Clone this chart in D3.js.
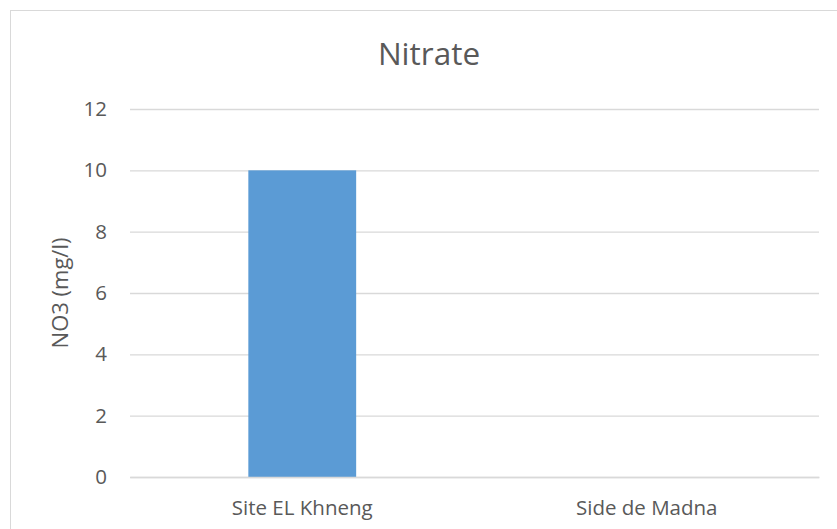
<!DOCTYPE html>
<html>
<head>
<meta charset="utf-8">
<script src="https://cdn.jsdelivr.net/npm/d3@7"></script>
<style>
  body { margin: 0; background: #fff; }
  svg { display: block; font-family: "Open Sans", "Noto Sans", sans-serif; }
</style>
</head>
<body>
<svg id="chart" width="837" height="529"></svg>
<script>
// Nitrate concentration per site
const categories = ["Site EL Khneng", "Side de Madna"];
const values = [10, 0];
const yTicks = [0, 2, 4, 6, 8, 10, 12];

const svg = d3.select("#chart");
const textColor = "#595959";
const gridColor = "#d9d9d9";
const labelSize = 20.5;

// Chart frame
svg.append("rect")
  .attr("x", 10.5).attr("y", 10.5)
  .attr("width", 840).attr("height", 530)
  .attr("fill", "#fff").attr("stroke", "#d9d9d9").attr("stroke-width", 1);

const plot = { left: 130, right: 819, top: 109, bottom: 477 };

const x = d3.scaleBand().domain(categories).range([plot.left, plot.right]).padding(0);
const y = d3.scaleLinear().domain([0, 12]).range([plot.bottom, plot.top]);

// Gridlines and value labels
const yAxis = d3.axisLeft(y).tickValues(yTicks).tickSize(-(plot.right - plot.left)).tickPadding(23);
const gy = svg.append("g").attr("transform", `translate(${plot.left},0)`).call(yAxis);
gy.select(".domain").remove();
gy.selectAll(".tick line").attr("stroke", gridColor).attr("stroke-width", 1.3);
gy.selectAll(".tick text")
  .attr("fill", textColor).attr("font-size", labelSize)
  .attr("font-family", "'Open Sans', sans-serif");

// Bars
const barFrac = 0.313;
svg.append("g").selectAll("rect")
  .data(categories.map((c, i) => ({ c, v: values[i] })))
  .join("rect")
  .attr("x", d => x(d.c) + x.bandwidth() * (1 - barFrac) / 2)
  .attr("width", x.bandwidth() * barFrac)
  .attr("y", d => y(d.v))
  .attr("height", d => y(0) - y(d.v))
  .attr("fill", "#5b9bd5");

// Category axis
const xAxis = d3.axisBottom(x).tickSize(0).tickPadding(23);
const gx = svg.append("g").attr("transform", `translate(0,${plot.bottom})`).call(xAxis);
gx.select(".domain").attr("stroke", gridColor).attr("stroke-width", 1.3);
gx.selectAll(".tick text")
  .attr("fill", textColor).attr("font-size", labelSize)
  .attr("font-family", "'Open Sans', sans-serif");

// Title
svg.append("text")
  .attr("x", 429).attr("y", 65)
  .attr("text-anchor", "middle")
  .attr("fill", textColor).attr("font-size", 31.5)
  .text("Nitrate");

// Y axis title
svg.append("text")
  .attr("transform", `translate(68,293) rotate(-90)`)
  .attr("text-anchor", "middle")
  .attr("fill", textColor).attr("font-size", 22)
  .text("NO3 (mg/l)");
</script>
</body>
</html>
